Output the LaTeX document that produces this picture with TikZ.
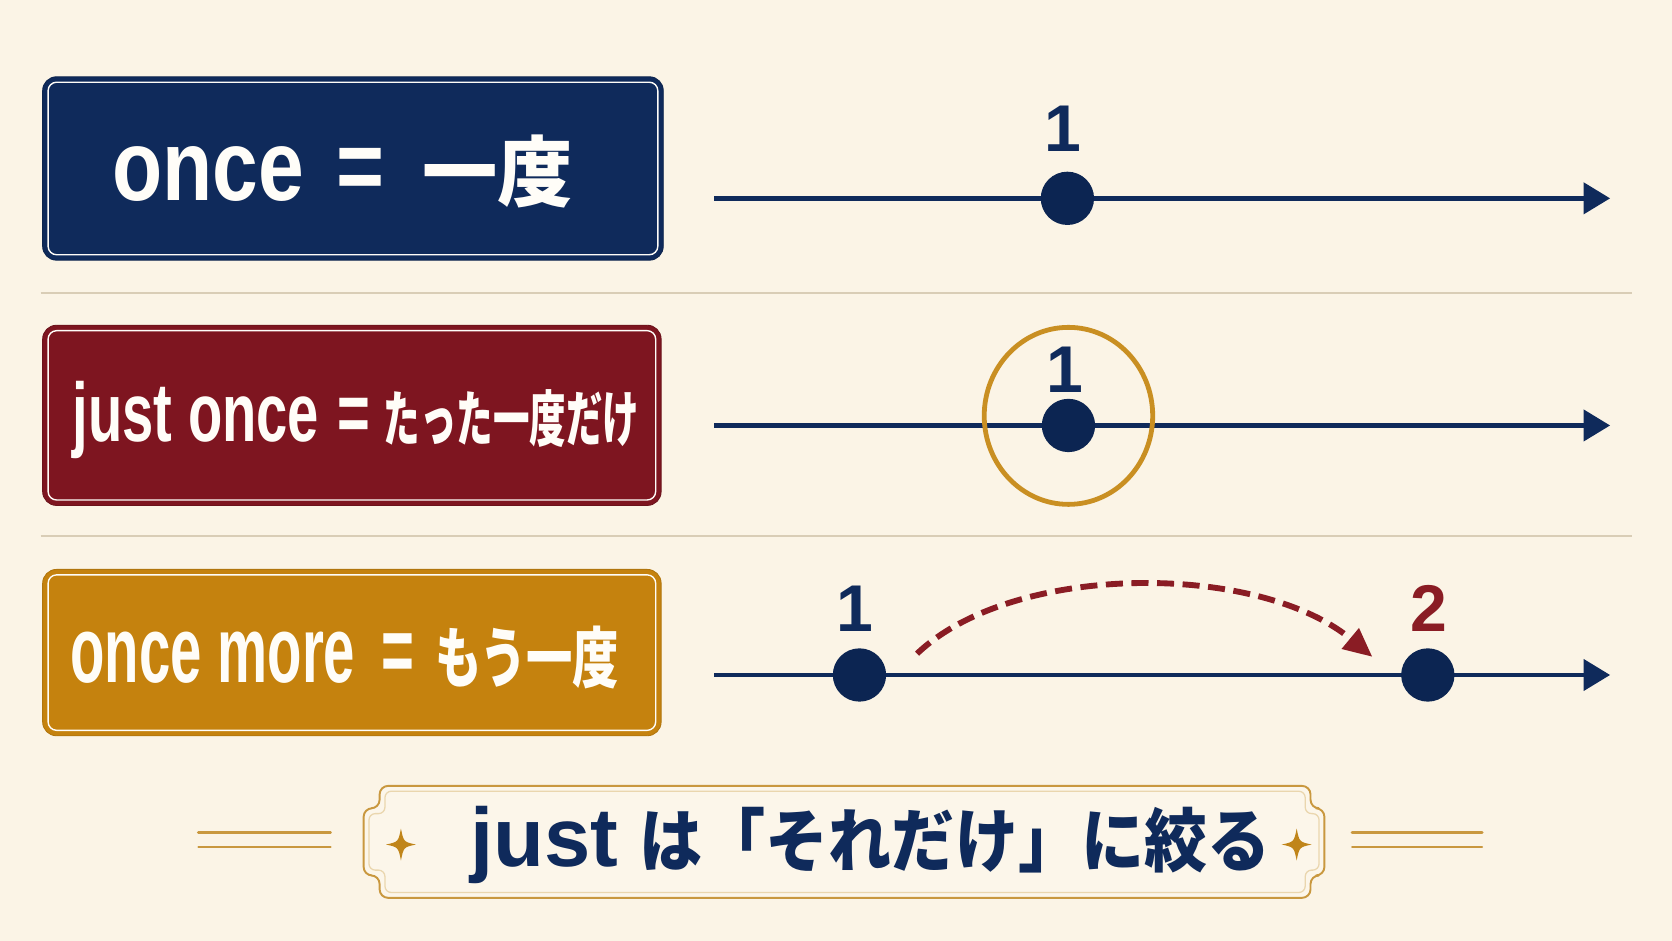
\documentclass[tikz,border=0pt]{standalone}
\usepackage{fontspec}
\usepackage{graphicx}
\setmainfont{Liberation Sans}
\newfontfamily\jpfont{Noto Sans CJK JP}
\usetikzlibrary{arrows.meta,shapes.geometric}
\definecolor{bgc}{HTML}{FBF4E6}
\definecolor{navyc}{HTML}{0F2A5B}
\definecolor{dotc}{HTML}{0C2552}
\definecolor{crimc}{HTML}{7E1520}
\definecolor{ochrec}{HTML}{C5820E}
\definecolor{goldc}{HTML}{C98F22}
\definecolor{sepc}{HTML}{D9CDB6}
\definecolor{arrc}{HTML}{8A1C24}
\definecolor{bannerc}{HTML}{FCF6EA}
\definecolor{bline}{HTML}{C9983F}
\definecolor{bline2}{HTML}{EAD6AE}
\definecolor{starc}{HTML}{C0851A}
\definecolor{txtw}{HTML}{FFFDF8}
\newcommand{\mylat}[3]{\scalebox{#2}[1]{\fontsize{#1}{#1}\selectfont\bfseries #3}}
\newcommand{\myjp}[3]{\scalebox{#2}[1]{\jpfont\fontsize{#1}{#1}\selectfont\bfseries #3}}
\begin{document}
\begin{tikzpicture}[x=1pt,y=-1pt,
  lbox/.style={rectangle,rounded corners=13pt,inner sep=0pt,line width=0.8pt},
  innerline/.style={draw=txtw!90!white,line width=1.3pt,rounded corners=8pt},
  tline/.style={draw=navyc,line width=4.5pt,-{Triangle[length=25pt,width=29pt]}},
  dotnode/.style={circle,fill=dotc,minimum size=50pt,inner sep=0pt},
  numtxt/.style={inner sep=0pt,anchor=base,font=\fontsize{62}{62}\selectfont\bfseries},
  sep/.style={draw=sepc,line width=2pt},
  boxtxt/.style={inner sep=0pt,anchor=base west,text=txtw},
  gline/.style={draw=bline,line cap=round}
]
\useasboundingbox (0,0) rectangle (1568,882);
\fill[bgc] (0,0) rectangle (1568,882);

% separators
\coordinate (s1a) at (38,275); \coordinate (s1b) at (1530,275);
\coordinate (s2a) at (38,503); \coordinate (s2b) at (1530,503);
\draw[sep] (s1a) -- (s1b);
\draw[sep] (s2a) -- (s2b);

% boxes
\node[lbox,fill=navyc,draw=navyc!85!black,minimum width=582pt,minimum height=172pt] (b1) at (331,158) {};
\node[lbox,fill=crimc,draw=crimc!85!black,minimum width=580pt,minimum height=169pt] (b2) at (330,389.5) {};
\node[lbox,fill=ochrec,draw=ochrec!90!black,minimum width=580pt,minimum height=156pt] (b3) at (330,612) {};
\foreach \b in {b1,b2,b3}{
  \draw[innerline] ([xshift=5.5pt,yshift=-5.5pt]\b.north west) rectangle ([xshift=-5.5pt,yshift=5.5pt]\b.south east);
}

% box texts
\node[boxtxt] (t1) at (105,188) {\mylat{94}{0.82}{once}\hspace{30pt}\mylat{94}{0.82}{=}\hspace{36pt}\myjp{72}{0.98}{一度}};
\node[boxtxt] (t2) at (68,414) {\mylat{78}{0.675}{just once}\hspace{17pt}\mylat{78}{0.675}{=}\hspace{13pt}\myjp{57}{0.6}{たった一度だけ}};
\node[boxtxt] (t3) at (66,640) {\mylat{88}{0.6}{once more}\hspace{25pt}\mylat{88}{0.6}{=}\hspace{19pt}\myjp{62}{0.7}{もう一度}};

% timeline 1
\coordinate (l1s) at (670,186); \coordinate (l1e) at (1510,186);
\draw[tline] (l1s) -- (l1e);
\node[dotnode] (d1) at (1001,186) {};
\node[numtxt,text=navyc] (n1) at (997,142) {1};

% timeline 2
\coordinate (l2s) at (670,399); \coordinate (l2e) at (1510,399);
\draw[tline] (l2s) -- (l2e);
\node[ellipse,draw=goldc,line width=4.5pt,minimum width=158pt,minimum height=166pt,inner sep=0pt] (ring) at (1002,390) {};
\node[dotnode] (d2) at (1002,399) {};
\node[numtxt,text=navyc] (n2) at (999,368) {1};

% timeline 3
\coordinate (l3s) at (670,633); \coordinate (l3e) at (1510,633);
\draw[tline] (l3s) -- (l3e);
\node[dotnode] (d3) at (806,633) {};
\node[dotnode] (d4) at (1339,633) {};
\node[numtxt,text=navyc] (n3) at (802,592) {1};
\node[numtxt,text=arrc] (n4) at (1340,592) {2};
\coordinate (ja) at (860,613); \coordinate (jb) at (1287,616);
\draw[draw=arrc,line width=5.5pt,dash pattern=on 16pt off 8pt,-{Triangle[length=27pt,width=24pt]}] (ja) .. controls (950,527) and (1180,527) .. (jb);

% bottom banner
\coordinate (g1a) at (186,781); \coordinate (g1b) at (310,781);
\coordinate (g2a) at (186,794); \coordinate (g2b) at (310,794);
\coordinate (g3a) at (1268,781); \coordinate (g3b) at (1390,781);
\coordinate (g4a) at (1268,794); \coordinate (g4b) at (1390,794);
\draw[gline,line width=2.6pt] (g1a) -- (g1b);
\draw[gline,line width=1.8pt] (g2a) -- (g2b);
\draw[gline,line width=2.6pt] (g3a) -- (g3b);
\draw[gline,line width=1.8pt] (g4a) -- (g4b);

\draw[fill=bannerc,draw=bline,line width=1.8pt,rounded corners=8pt]
  (356,737) -- (1229,737) -- (1229,758) -- (1242,758) -- (1242,821) -- (1229,821) -- (1229,842)
  -- (356,842) -- (356,821) -- (341,821) -- (341,758) -- (356,758) -- cycle;
\draw[draw=bline2,line width=1.2pt,rounded corners=6pt]
  (361,742) -- (1224,742) -- (1224,763) -- (1237,763) -- (1237,816) -- (1224,816) -- (1224,837)
  -- (361,837) -- (361,816) -- (346,816) -- (346,763) -- (361,763) -- cycle;

\foreach \sx in {376,1216}{
  \begin{scope}[shift={(\sx,792)}]
    \fill[starc] (0,-15) .. controls (2.5,-2.5) .. (14,0) .. controls (2.5,2.5) .. (0,15)
      .. controls (-2.5,2.5) .. (-14,0) .. controls (-2.5,-2.5) .. cycle;
  \end{scope}
}

\node[inner sep=0pt,anchor=base west,text=navyc] (bt) at (441,813) {\mylat{78}{1}{just}\hspace{20pt}\myjp{65}{0.91}{は「それだけ」に絞る}};
\end{tikzpicture}
\end{document}
